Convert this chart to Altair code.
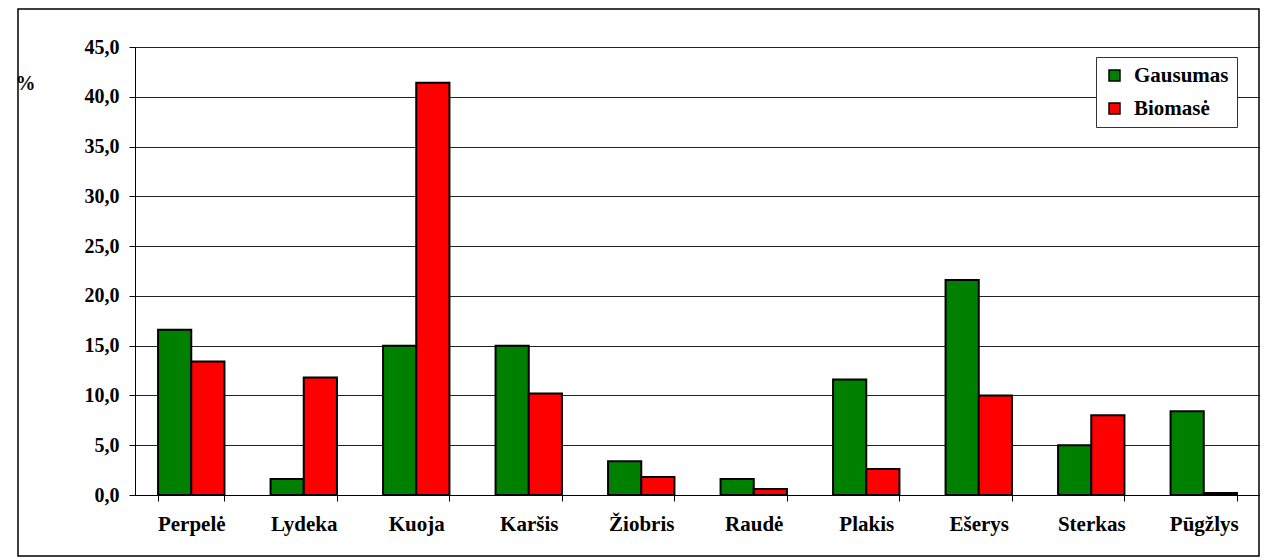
import altair as alt
import pandas as pd

species = ["Perpelė", "Lydeka", "Kuoja", "Karšis", "Žiobris", "Raudė",
           "Plakis", "Ešerys", "Sterkas", "Pūgžlys"]
gausumas = [16.6, 1.6, 15.0, 15.0, 3.4, 1.6, 11.6, 21.6, 5.0, 8.4]
biomase = [13.4, 11.8, 41.4, 10.2, 1.8, 0.6, 2.6, 10.0, 8.0, 0.2]
series = ["Gausumas", "Biomasė"]
colors = ["#008000", "#FF0000"]
y_ticks = [0, 5, 10, 15, 20, 25, 30, 35, 40, 45]

rows = []
for i, s in enumerate(species):
    rows.append({"species": s, "series": series[0], "value": gausumas[i]})
    rows.append({"species": s, "series": series[1], "value": biomase[i]})
df = pd.DataFrame(rows)

FONT = "Liberation Serif"

bars = alt.Chart(df).mark_bar(stroke="black", strokeWidth=2).encode(
    x=alt.X("species:N", sort=species,
            scale=alt.Scale(paddingInner=0.41, paddingOuter=0.205),
            axis=alt.Axis(title=None, labelAngle=0, tickBand="extent",
                          tickSize=6, labelPadding=12, domainColor="black",
                          tickColor="black", grid=False,
                          labelFont=FONT, labelFontSize=21,
                          labelFontWeight="bold", labelColor="black")),
    xOffset=alt.XOffset("series:N", sort=series,
                        scale=alt.Scale(paddingInner=0, paddingOuter=0)),
    y=alt.Y("value:Q", scale=alt.Scale(domain=[0, 45], nice=False),
            axis=alt.Axis(values=y_ticks, title="%", titleAngle=0,
                          titleX=-110, titleY=36, titleAlign="center",
                          titleBaseline="middle", titleFont=FONT,
                          titleFontSize=20, titleFontWeight="bold",
                          titleColor="black",
                          labelExpr="replace(format(datum.value, '.1f'), '.', ',')",
                          labelFont=FONT, labelFontSize=20,
                          labelFontWeight="bold", labelColor="black",
                          tickSize=6, labelPadding=10, tickColor="black",
                          domainColor="black", gridColor="#222",
                          gridWidth=1, grid=True)),
    color=alt.Color("series:N", sort=series,
                    scale=alt.Scale(domain=series, range=colors),
                    legend=alt.Legend(title=None, orient="none",
                                      legendX=961, legendY=10,
                                      symbolType="square", symbolSize=120,
                                      symbolStrokeColor="black",
                                      symbolStrokeWidth=1.5,
                                      labelFont=FONT, labelFontSize=21,
                                      labelFontWeight="bold",
                                      labelColor="black", labelOffset=9,
                                      rowPadding=11, padding=8,
                                      strokeColor="#333", fillColor="white")),
)

frame = alt.Chart(pd.DataFrame({"a": [0]})).mark_rect(
    fill=None, stroke="black", strokeWidth=1.5
).encode(
    x=alt.value(-117), x2=alt.value(1124),
    y=alt.value(-38), y2=alt.value(509),
)

chart = alt.layer(bars, frame).properties(
    width=1125, height=448,
    autosize=alt.AutoSizeParams(type="none"),
    padding={"left": 127, "top": 39, "right": 0, "bottom": 62},
).configure_view(stroke=None).configure(background="white")

chart.save("out.html", embed_options={"renderer": "svg", "actions": False})
